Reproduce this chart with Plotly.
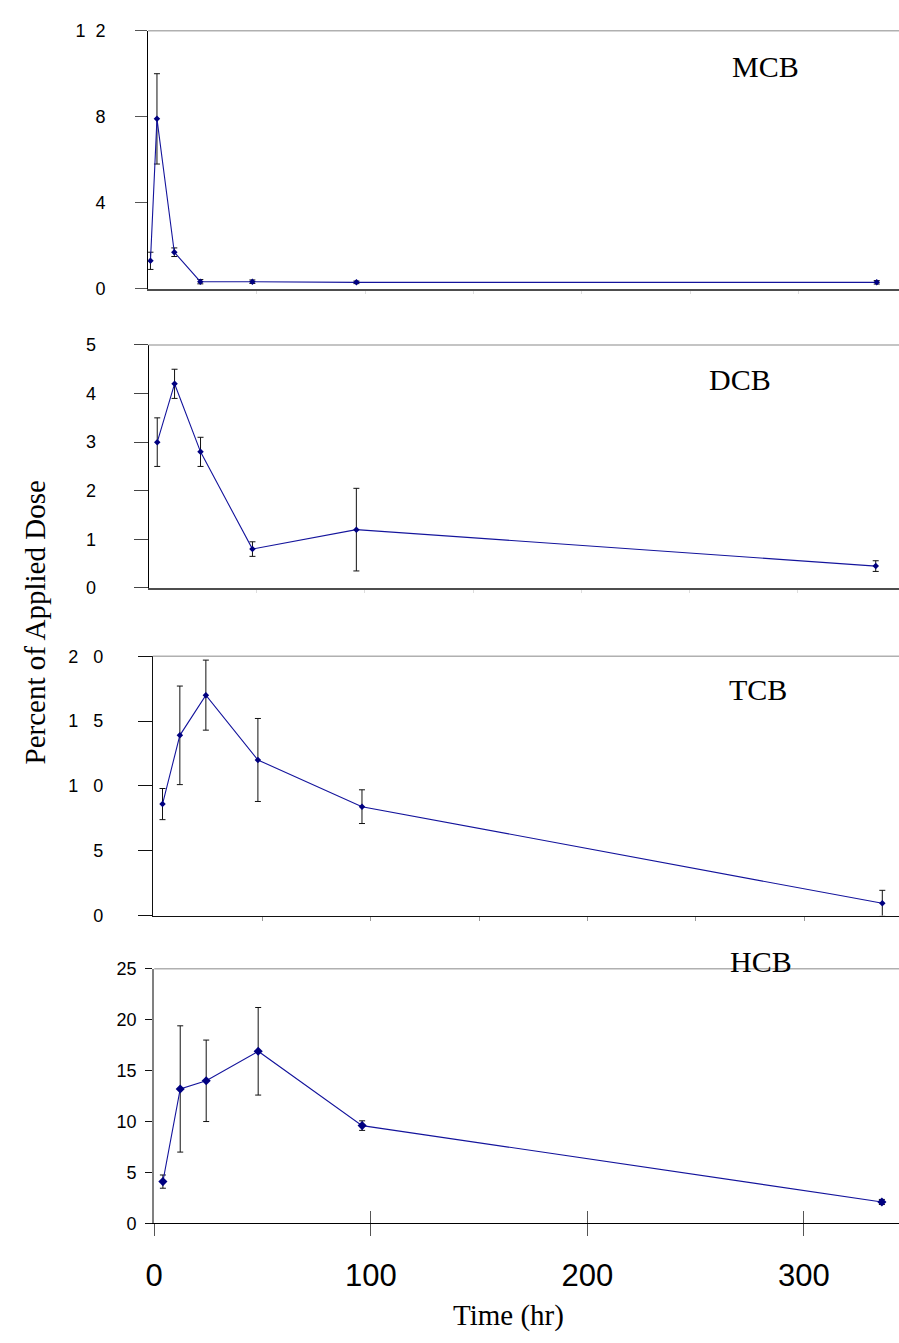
import plotly.graph_objects as go

# ---------------- data ----------------
panel_names = ["MCB", "DCB", "TCB", "HCB"]

mcb_time = [1, 4, 12, 24, 48, 96, 336]
mcb_value = [1.3, 7.9, 1.7, 0.33, 0.33, 0.3, 0.3]
mcb_err = [0.4, 2.1, 0.2, 0.1, 0.08, 0.06, 0.08]

dcb_time = [4, 12, 24, 48, 96, 336]
dcb_value = [3.0, 4.2, 2.8, 0.8, 1.2, 0.45]
dcb_err = [0.5, 0.3, 0.3, 0.15, 0.85, 0.11]

tcb_time = [4, 12, 24, 48, 96, 336]
tcb_value = [8.6, 13.9, 17.0, 12.0, 8.4, 0.95]
tcb_err = [1.2, 3.8, 2.7, 3.2, 1.3, 1.0]

hcb_time = [4, 12, 24, 48, 96, 336]
hcb_value = [4.1, 13.2, 14.0, 16.9, 9.6, 2.1]
hcb_err = [0.65, 6.2, 4.0, 4.3, 0.47, 0.25]

NB = "\u00a0"
y_tickvals = [[0, 4, 8, 12], [0, 1, 2, 3, 4, 5], [0, 5, 10, 15, 20], [0, 5, 10, 15, 20, 25]]
y_ticktext = [["0", "4", "8", "1" + NB * 2 + "2"], ["0", "1", "2", "3", "4", "5"],
              ["0", "5", "1" + NB * 3 + "0", "1" + NB * 3 + "5", "2" + NB * 3 + "0"],
              ["0", "5", "10", "15", "20", "25"]]
y_ranges = [[0, 12], [0, 5], [0, 20], [0, 25]]
x_tickvals = [0, 100, 200, 300]
x_ticktext = ["0", "100", "200", "300"]

x_title = "Time (hr)"
y_title = "Percent of Applied Dose"

# ---------------- layout geometry (pixels) ----------------
W, H = 899, 1343
geo = [
    dict(left=140.5, x0=140.7, sc=2.19, top=21, bot=283),
    dict(left=141.0, x0=141.0, sc=2.186, top=340, bot=586.7),
    dict(left=145.3, x0=146.3, sc=2.19, top=656, bot=919.3),
    dict(left=146.7, x0=146.7, sc=2.1875, top=973.3, bot=1231.7),
]
label_pos = [(764, 57), (738, 375), (757, 690), (760, 966)]

series = [
    (mcb_time, mcb_value, mcb_err),
    (dcb_time, dcb_value, dcb_err),
    (tcb_time, tcb_value, tcb_err),
    (hcb_time, hcb_value, hcb_err),
]

NAVY = "#14149c"
fig = go.Figure()

marker_sizes = [5, 5, 5, 7]
for i, (t, v, e) in enumerate(series):
    k = "" if i == 0 else str(i + 1)
    fig.add_trace(go.Scatter(
        x=t, y=v, mode="lines+markers",
        line=dict(color=NAVY, width=1.1),
        marker=dict(symbol="diamond", size=marker_sizes[i], color="#000080"),
        error_y=dict(type="data", array=e, visible=True, color="#111111",
                     thickness=1, width=3),
        xaxis="x" + k, yaxis="y" + k, showlegend=False,
        name=panel_names[i],
    ))

fig.add_trace(go.Scatter(x=[], y=[], xaxis="x5", yaxis="y4", showlegend=False))

ytick_len = [12, 14, 14, 7]
ytick_col = ["#555555", "#444444", "#111111", "#111111"]
ylab_gap = [41, 51, 48, 15]
yline_col = ["#000000", "#000000", "#111111", "#808080"]
yline_w = [1, 1, 1, 2]
xline_col = ["#4d4d4d", "#4d4d4d", "#111111", "#000000"]
xline_w = [2, 2, 1, 1]

layout = dict(
    width=W, height=H, margin=dict(l=0, r=0, t=0, b=0),
    paper_bgcolor="white", plot_bgcolor="white", showlegend=False,
)
shapes = []
annotations = []
for i, g in enumerate(geo):
    k = "" if i == 0 else str(i + 1)
    xmin = -(g["x0"] - g["left"]) / g["sc"]
    xmax = (W - g["x0"]) / g["sc"]
    ydom = [1 - g["bot"] / H, 1 - g["top"] / H]
    xa = dict(
        domain=[g["left"] / W, 1], range=[xmin, xmax], anchor="y" + k,
        showgrid=False, zeroline=False, showline=True,
        linecolor=xline_col[i], linewidth=xline_w[i],
        fixedrange=True,
    )
    if i < 3:
        xa.update(ticks="outside", tickvals=[50, 100, 150, 200, 250, 300],
                  ticklen=4 if i == 2 else 3, tickwidth=1,
                  tickcolor="#999999" if i == 2 else "#dddddd",
                  showticklabels=False)
    else:
        xa.update(ticks="outside", tickvals=x_tickvals, ticktext=x_ticktext,
                  ticklen=12, tickwidth=1, tickcolor="#555555",
                  tickfont=dict(family="Liberation Sans, Arial", size=31, color="#000000"),
                  ticklabelstandoff=12)
    layout["xaxis" + k] = xa
    ya = dict(
        domain=ydom, range=y_ranges[i], anchor="x" + k,
        tickvals=y_tickvals[i], ticktext=y_ticktext[i],
        ticks="outside", ticklen=ytick_len[i], tickwidth=1, tickcolor=ytick_col[i],
        showgrid=False, zeroline=False, showline=True,
        linecolor=yline_col[i], linewidth=yline_w[i],
        tickfont=dict(family="Liberation Sans, Arial", size=18, color="#000000"),
        ticklabelstandoff=max(ylab_gap[i] - ytick_len[i] - 3, 0),
        fixedrange=True,
    )
    layout["yaxis" + k] = ya
    shapes.append(dict(type="line", xref="x" + k + " domain", yref="y" + k + " domain",
                       x0=0, x1=1, y0=1, y1=1,
                       line=dict(color="#b0b0b0", width=1.5)))
    annotations.append(dict(
        text=panel_names[i], x=label_pos[i][0] / W, y=1 - label_pos[i][1] / H,
        xref="paper", yref="paper", showarrow=False, xanchor="center", yanchor="middle",
        font=dict(family="Liberation Serif, Times New Roman", size=30, color="#000000"),
    ))

g = geo[3]
layout["xaxis5"] = dict(
    overlaying="x4", anchor="y4", side="bottom",
    range=[-(g["x0"] - g["left"]) / g["sc"], (W - g["x0"]) / g["sc"]],
    tickvals=x_tickvals, ticks="inside", ticklen=12, tickwidth=1, tickcolor="#555555",
    showticklabels=False, showline=False, showgrid=False, zeroline=False,
    fixedrange=True,
)

annotations.append(dict(
    text=x_title, x=505 / W, y=1 - 1325 / H, xref="paper", yref="paper",
    showarrow=False, xanchor="center", yanchor="middle",
    font=dict(family="Liberation Serif, Times New Roman", size=29, color="#000000"),
))
annotations.append(dict(
    text=y_title, x=26 / W, y=1 - 622 / H, xref="paper", yref="paper",
    showarrow=False, xanchor="center", yanchor="middle", textangle=-90,
    font=dict(family="Liberation Serif, Times New Roman", size=29, color="#000000"),
))

layout["shapes"] = shapes
layout["annotations"] = annotations
fig.update_layout(**layout)

fig.write_html("out.html")
